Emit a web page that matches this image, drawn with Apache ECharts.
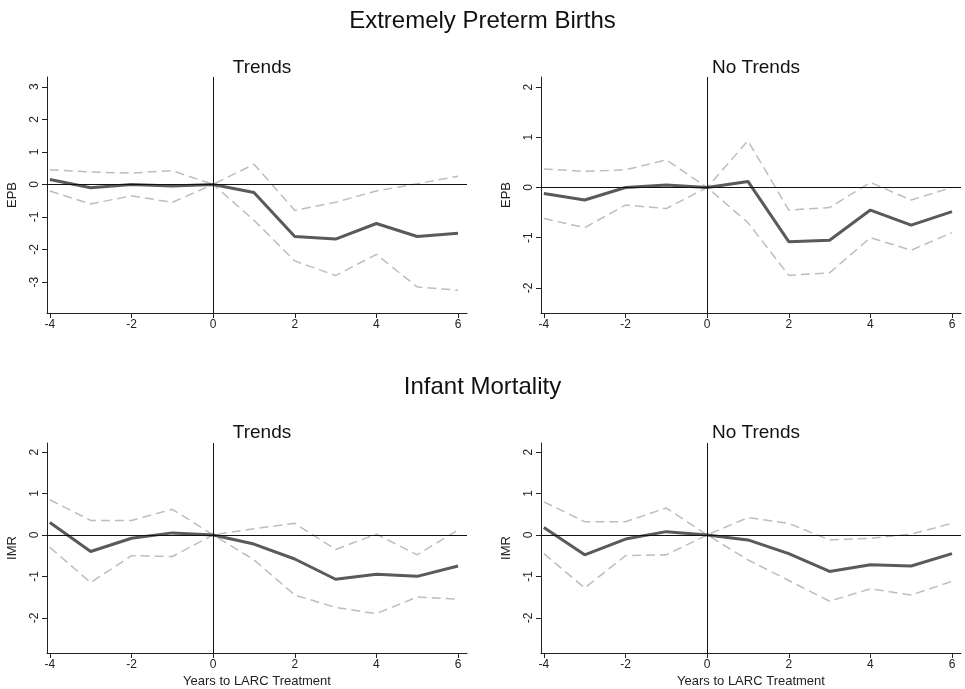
<!DOCTYPE html>
<html>
<head>
<meta charset="utf-8">
<script src="https://cdn.jsdelivr.net/npm/echarts@6/dist/echarts.min.js"></script>
<style>body{margin:0;background:#fff}#main{width:965px;height:689px}</style>
</head>
<body>
<div id="main"></div>
<script>
const years = [-4, -3, -2, -1, 0, 1, 2, 3, 4, 5, 6];
const xTicks = [-4, -2, 0, 2, 4, 6];

const epbTrendEst = [0.15, -0.1, 0, -0.05, 0, -0.25, -1.6, -1.68, -1.2, -1.6, -1.5];
const epbTrendHi = [0.45, 0.38, 0.35, 0.42, 0, 0.62, -0.8, -0.55, -0.2, 0.02, 0.25];
const epbTrendLo = [-0.2, -0.6, -0.35, -0.55, 0, -1.1, -2.35, -2.8, -2.15, -3.15, -3.25];

const epbNoEst = [-0.12, -0.25, 0, 0.05, 0, 0.12, -1.08, -1.05, -0.45, -0.75, -0.48];
const epbNoHi = [0.37, 0.32, 0.35, 0.55, 0, 0.93, -0.45, -0.4, 0.1, -0.25, 0];
const epbNoLo = [-0.62, -0.8, -0.35, -0.42, 0, -0.7, -1.75, -1.7, -1.0, -1.25, -0.9];

const imrTrendEst = [0.3, -0.4, -0.08, 0.05, 0, -0.22, -0.58, -1.07, -0.95, -1.0, -0.75];
const imrTrendHi = [0.85, 0.35, 0.35, 0.62, 0, 0.15, 0.28, -0.35, 0.02, -0.48, 0.12];
const imrTrendLo = [-0.3, -1.15, -0.5, -0.52, 0, -0.6, -1.45, -1.75, -1.9, -1.5, -1.55];

const imrNoEst = [0.18, -0.48, -0.1, 0.08, 0, -0.12, -0.45, -0.88, -0.72, -0.75, -0.45];
const imrNoHi = [0.8, 0.32, 0.32, 0.65, 0, 0.42, 0.28, -0.12, -0.08, 0.02, 0.28];
const imrNoLo = [-0.45, -1.28, -0.5, -0.48, 0, -0.6, -1.1, -1.6, -1.3, -1.45, -1.12];

const panels = [
  {left: 47, top: 77, name: 'EPB', yMin: -3.95, yMax: 3.3, yTicks: [-3, -2, -1, 0, 1, 2, 3], est: epbTrendEst, hi: epbTrendHi, lo: epbTrendLo, xName: ''},
  {left: 541, top: 77, name: 'EPB', yMin: -2.5, yMax: 2.2, yTicks: [-2, -1, 0, 1, 2], est: epbNoEst, hi: epbNoHi, lo: epbNoLo, xName: ''},
  {left: 47, top: 443, name: 'IMR', yMin: -2.85, yMax: 2.22, yTicks: [-2, -1, 0, 1, 2], est: imrTrendEst, hi: imrTrendHi, lo: imrTrendLo, xName: 'Years to LARC Treatment'},
  {left: 541, top: 443, name: 'IMR', yMin: -2.85, yMax: 2.22, yTicks: [-2, -1, 0, 1, 2], est: imrNoEst, hi: imrNoHi, lo: imrNoLo, xName: 'Years to LARC Treatment'}
];

const font = 'Liberation Sans, Arial, sans-serif';
const grid = [], xAxis = [], yAxis = [], series = [];
panels.forEach((p, i) => {
  grid.push({left: p.left, top: p.top, width: 420, height: 236});
  xAxis.push({
    type: 'value', gridIndex: i, min: -4.07, max: 6.22,
    name: p.xName, nameLocation: 'middle', nameGap: 22,
    nameTextStyle: {fontSize: 13, color: '#222', fontFamily: font},
    axisLine: {onZero: false, lineStyle: {color: '#222'}},
    axisTick: {show: true, customValues: xTicks, length: 5, lineStyle: {color: '#222'}},
    axisLabel: {customValues: xTicks, color: '#222', fontSize: 12, fontFamily: font, margin: 6},
    splitLine: {show: false}
  });
  yAxis.push({
    type: 'value', gridIndex: i, min: p.yMin, max: p.yMax,
    name: p.name, nameLocation: 'middle', nameGap: 28, nameRotate: 90,
    nameTextStyle: {fontSize: 13, color: '#222', fontFamily: font},
    axisLine: {show: true, onZero: false, lineStyle: {color: '#222'}},
    axisTick: {show: true, customValues: p.yTicks, length: 5, lineStyle: {color: '#222'}},
    axisLabel: {customValues: p.yTicks, rotate: 90, color: '#222', fontSize: 12, fontFamily: font, margin: 6},
    splitLine: {show: false}
  });
  const pts = arr => years.map((x, k) => [x, arr[k]]);
  const dash = {color: '#bdbdbd', width: 1.5, type: [9, 5]};
  series.push({
    type: 'line', xAxisIndex: i, yAxisIndex: i, data: pts(p.hi), symbol: 'none', lineStyle: dash, z: 2,
    markLine: {
      silent: true, symbol: 'none', label: {show: false},
      lineStyle: {color: '#111', width: 1, type: 'solid'},
      data: [{xAxis: 0}, {yAxis: 0}]
    }
  });
  series.push({type: 'line', xAxisIndex: i, yAxisIndex: i, data: pts(p.lo), symbol: 'none', lineStyle: dash, z: 2});
  series.push({type: 'line', xAxisIndex: i, yAxisIndex: i, data: pts(p.est), symbol: 'none',
    lineStyle: {color: '#5a5a5a', width: 3}, z: 3});
});

const sub = {fontSize: 19, fontWeight: 'normal', color: '#111', fontFamily: font};
const big = {fontSize: 24, fontWeight: 'normal', color: '#111', fontFamily: font};
const option = {
  animation: false,
  title: [
    {text: 'Extremely Preterm Births', left: 'center', top: 4, textStyle: big},
    {text: 'Trends', left: 257, top: 53, textAlign: 'center', textStyle: sub},
    {text: 'No Trends', left: 751, top: 53, textAlign: 'center', textStyle: sub},
    {text: 'Infant Mortality', left: 'center', top: 370, textStyle: big},
    {text: 'Trends', left: 257, top: 418, textAlign: 'center', textStyle: sub},
    {text: 'No Trends', left: 751, top: 418, textAlign: 'center', textStyle: sub}
  ],
  grid, xAxis, yAxis, series
};
echarts.init(document.getElementById('main')).setOption(option);
</script>
</body>
</html>
